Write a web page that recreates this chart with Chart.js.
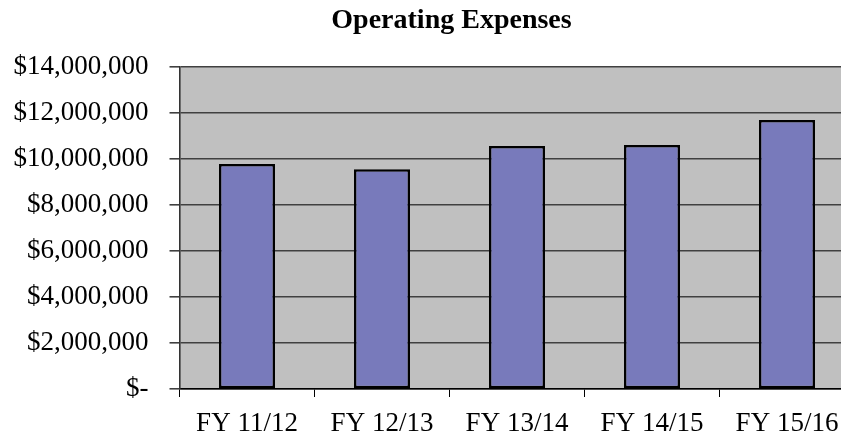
<!DOCTYPE html>
<html>
<head>
<meta charset="utf-8">
<script src="https://cdn.jsdelivr.net/npm/chart.js@4/dist/chart.umd.min.js"></script>
<style>
  html, body { margin: 0; padding: 0; background: #fff; }
  #wrap { width: 841px; height: 435px; overflow: hidden; position: relative; }
  canvas { display: block; }
</style>
</head>
<body>
<div id="wrap"><canvas id="c" width="903" height="435"></canvas></div>
<script>
const titleText = 'Operating Expenses';
const categories = ['FY 11/12', 'FY 12/13', 'FY 13/14', 'FY 14/15', 'FY 15/16'];
const expenses = [9780000, 9550000, 10570000, 10610000, 11700000];
const yTicks = [0, 2000000, 4000000, 6000000, 8000000, 10000000, 12000000, 14000000];

const plotBg = {
  id: 'plotBg',
  beforeDraw(chart) {
    const a = chart.chartArea, ctx = chart.ctx;
    ctx.save();
    ctx.fillStyle = '#C0C0C0';
    ctx.fillRect(a.left, a.top, a.right - a.left, a.bottom - a.top);
    ctx.restore();
  }
};

const serif = "'Liberation Serif', 'Times New Roman', serif";

new Chart(document.getElementById('c'), {
  type: 'bar',
  data: {
    labels: categories,
    datasets: [{
      data: expenses,
      backgroundColor: 'rgb(120,122,187)',
      borderColor: '#000',
      borderWidth: 2.5,
      borderSkipped: false,
      categoryPercentage: 1,
      barPercentage: 0.415,
      yAxisID: 'y'
    }]
  },
  options: {
    responsive: false,
    animation: false,
    devicePixelRatio: 1,
    layout: { padding: 0 },
    plugins: {
      legend: { display: false },
      tooltip: { enabled: false },
      title: {
        display: true,
        text: titleText,
        color: '#000',
        font: { family: serif, size: 28, weight: 'bold' },
        padding: { top: 4, bottom: 29.4 }
      }
    },
    scales: {
      x: {
        grid: { drawOnChartArea: false, drawTicks: true, tickLength: 8, color: '#000', lineWidth: 1 },
        border: { display: true, color: '#000', width: 1.5 },
        ticks: {
          color: '#000',
          padding: 11,
          font: { family: serif, size: 27 },
          maxRotation: 0
        },
        afterFit(s) { s.height = 46; }
      },
      y: {
        min: 0,
        max: 14000000,
        afterBuildTicks(s) { s.ticks = yTicks.map(v => ({ value: v })); },
        grid: { color: '#404040', lineWidth: 1.6, tickLength: 10, drawTicks: true },
        border: { display: true, color: '#333', width: 1.6 },
        ticks: {
          color: '#000',
          padding: 21,
          font: { family: serif, size: 27 },
          callback: v => v === 0 ? '$-' : '$' + Number(v).toLocaleString('en-US')
        },
        afterFit(s) { s.width = 179.5; }
      },
      yPad: {
        position: 'right',
        min: 0,
        max: 14000000,
        grid: { drawOnChartArea: false, drawTicks: false },
        border: { display: false },
        ticks: { display: false },
        afterFit(s) { s.width = 48.5; }
      }
    }
  },
  plugins: [plotBg]
});
</script>
</body>
</html>
